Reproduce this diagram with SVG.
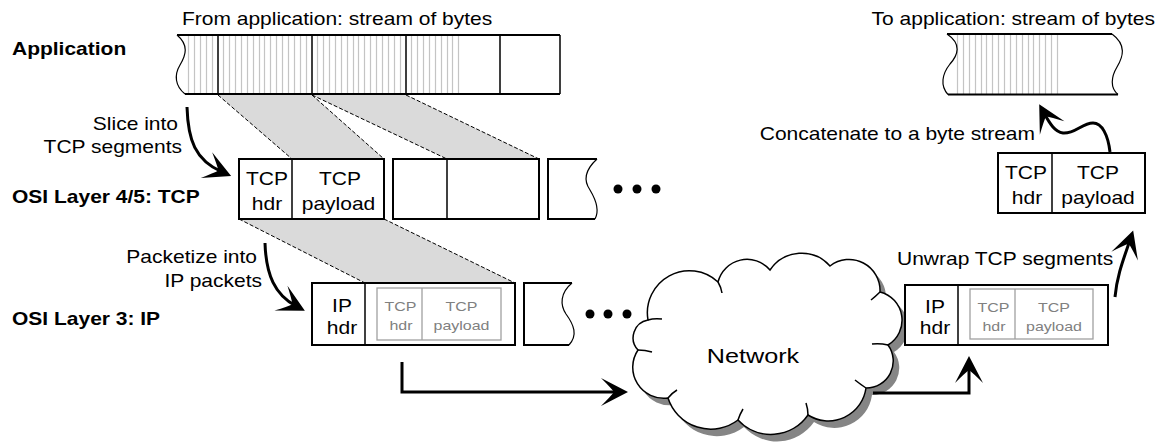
<svg xmlns="http://www.w3.org/2000/svg" width="1159" height="442" viewBox="0 0 1159 442">
<style>
.box{fill:#fff;stroke:#000;stroke-width:2}
.ln{fill:none;stroke:#000;stroke-width:2}
.div{fill:none;stroke:#000;stroke-width:1.5}
.wave{fill:none;stroke:#000;stroke-width:1.2}
.ibox{fill:none;stroke:#a0a0a0;stroke-width:1.3}
.hatch{fill:none;stroke:#c4c4c4;stroke-width:1.2}
.map{fill:#dadada;stroke:none}
.dash{fill:none;stroke:#000;stroke-width:1;stroke-dasharray:4 2}
.t{font-family:"Liberation Sans",Arial,Helvetica,sans-serif;font-size:17.5px;fill:#000}
.b{font-weight:bold}
.g{font-size:13.3px;fill:#808080}
.n{font-size:21px}
.c{text-anchor:middle}
.e{text-anchor:end}
.arrow{fill:none;stroke:#000;stroke-width:3;marker-end:url(#ah)}
.dot{fill:#000}
</style>
<defs>
<marker id="ah" markerUnits="userSpaceOnUse" viewBox="-30 -16 32 32" refX="-10" refY="0" markerWidth="32" markerHeight="32" orient="auto">
<path d="M0,0 L-27,-14 Q-17,-4 -14,0 Q-17,4 -27,14 Z" fill="#000"/>
</marker>
<path id="cloud" d="M648,320 A42,42 0 0 1 718,282 A30,30 0 0 1 770,270 A38,38 0 0 1 830,266 A31,31 0 0 1 880,292 A29,29 0 0 1 888,345 A27,27 0 0 1 866,388 A38,38 0 0 1 808,415 A45,45 0 0 1 738,420 A45,45 0 0 1 668,398 A31,31 0 0 1 638,350 A18,18 0 0 1 648,320 Z"/>
</defs>
<rect width="1159" height="442" fill="#fff"/>

<g id="mapping">
<polygon class="map" points="218,95 312,95 384,159 292,159"/>
<polygon class="map" points="312,95 406,95 539,159 447,159"/>
<polygon class="map" points="239,219 384,219 515,283 365,283"/>
<path class="dash" d="M218,95 L292,159 M312,95 L384,159 M312,95 L447,159 M406,95 L539,159 M239,219 L365,283 M384,219 L515,283"/>
</g>

<g id="app-stream">
<path class="hatch" d="M188.5,35V94M194.5,35V94M200.5,35V94M206.5,35V94M212.5,35V94M223.5,35V94M229.5,35V94M235.5,35V94M241.5,35V94M247.5,35V94M253.5,35V94M259.5,35V94M264.5,35V94M270.5,35V94M276.5,35V94M282.5,35V94M288.5,35V94M294.5,35V94M300.5,35V94M306.5,35V94M317.5,35V94M323.5,35V94M329.5,35V94M335.5,35V94M341.5,35V94M347.5,35V94M353.5,35V94M358.5,35V94M364.5,35V94M370.5,35V94M376.5,35V94M382.5,35V94M388.5,35V94M394.5,35V94M400.5,35V94M411.5,35V94M417.5,35V94M423.5,35V94M429.5,35V94M435.5,35V94M441.5,35V94M447.5,35V94M452.5,35V94M458.5,35V94"/>
<path class="wave" d="M177,35 C189,45 186,55 180,65 C174,75 175,86 185,94"/>
<path class="div" d="M218,35V94M312,35V94M406,35V94M500,35V94M560,35V94"/>
<path class="ln" d="M177,35H560M185,94H560"/>
</g>

<g id="tcp-seg-1">
<rect class="box" x="239" y="159" width="145" height="60"/>
<path class="div" d="M292,159V219"/>
<text class="t c" transform="translate(267,185) scale(1.2,1)">TCP</text>
<text class="t c" transform="translate(267,210) scale(1.2,1)">hdr</text>
<text class="t c" transform="translate(340,185) scale(1.2,1)">TCP</text>
<text class="t c" transform="translate(338.5,210) scale(1.2,1)">payload</text>
</g>
<g id="tcp-seg-2">
<rect class="box" x="393" y="159" width="146" height="60"/>
<path class="div" d="M447,159V219"/>
</g>
<g id="tcp-seg-3">
<path class="ln" d="M597,159H548V219H595"/>
<path class="wave" d="M597,159 C585,170 583,180 590,190 C596,200 600,210 595,219"/>
</g>
<g id="tcp-more">
<circle class="dot" cx="618" cy="189" r="4.5"/>
<circle class="dot" cx="637" cy="189" r="4.5"/>
<circle class="dot" cx="656" cy="189" r="4.5"/>
</g>

<g id="ip-pkt-1">
<rect class="box" x="312" y="283" width="203" height="62"/>
<path class="div" d="M365,283V345"/>
<rect class="ibox" x="377" y="288" width="124" height="52"/>
<path class="ibox" d="M422,288V340"/>
<text class="t c" transform="translate(342,312) scale(1.2,1)">IP</text>
<text class="t c" transform="translate(342,334) scale(1.2,1)">hdr</text>
<text class="t g c" transform="translate(400.5,311) scale(1.2,1)">TCP</text>
<text class="t g c" transform="translate(401,330) scale(1.2,1)">hdr</text>
<text class="t g c" transform="translate(461.5,311) scale(1.2,1)">TCP</text>
<text class="t g c" transform="translate(461.5,330) scale(1.2,1)">payload</text>
</g>
<g id="ip-pkt-2">
<path class="ln" d="M572,283H524V345H569"/>
<path class="wave" d="M572,283 C560,293 560,305 566,314 C574,325 578,335 569,345"/>
</g>
<g id="ip-more">
<circle class="dot" cx="590" cy="314" r="4.5"/>
<circle class="dot" cx="608" cy="314" r="4.5"/>
<circle class="dot" cx="627" cy="314" r="4.5"/>
</g>

<g id="network">
<use href="#cloud" transform="translate(6,7)" fill="#858585"/>
<use href="#cloud" fill="#fff" stroke="#000" stroke-width="1.5"/>
<path fill="none" stroke="#000" stroke-width="1.5" d="M648,320 Q654,318 662,319 M718,282 Q721,287 722,293 M880,292 Q876,296 871,300 M888,345 Q880,343 872,344 M866,388 Q860,384 855,380 M808,415 Q808,409 806,403 M738,420 Q740,414 743,409 M668,398 Q672,393 677,390 M638,350 Q645,350 652,352"/>
<text class="t n c" transform="translate(753,363) scale(1.2,1)">Network</text>
</g>

<g id="rx-ip-pkt">
<rect class="box" x="905" y="285" width="203" height="60"/>
<path class="div" d="M958,285V345"/>
<rect class="ibox" x="970" y="289" width="123" height="50"/>
<path class="ibox" d="M1015,289V339"/>
<text class="t c" transform="translate(935,313) scale(1.2,1)">IP</text>
<text class="t c" transform="translate(935,334) scale(1.2,1)">hdr</text>
<text class="t g c" transform="translate(993.5,312) scale(1.2,1)">TCP</text>
<text class="t g c" transform="translate(994,331) scale(1.2,1)">hdr</text>
<text class="t g c" transform="translate(1054,312) scale(1.2,1)">TCP</text>
<text class="t g c" transform="translate(1054,331) scale(1.2,1)">payload</text>
</g>

<g id="rx-tcp-seg">
<rect class="box" x="998" y="153" width="147" height="60"/>
<path class="div" d="M1052,153V213"/>
<text class="t c" transform="translate(1026,179) scale(1.2,1)">TCP</text>
<text class="t c" transform="translate(1027,204) scale(1.2,1)">hdr</text>
<text class="t c" transform="translate(1098,179) scale(1.2,1)">TCP</text>
<text class="t c" transform="translate(1098,204) scale(1.2,1)">payload</text>
</g>

<g id="rx-stream">
<path class="hatch" d="M957.5,34V94M963.5,34V94M969.5,34V94M975.5,34V94M981.5,34V94M986.5,34V94M992.5,34V94M998.5,34V94M1004.5,34V94M1010.5,34V94M1016.5,34V94M1022.5,34V94M1028.5,34V94M1033.5,34V94M1039.5,34V94M1045.5,34V94M1051.5,34V94M1057.5,34V94"/>
<path class="wave" d="M947,34 C962,44 958,55 950,64 C942,74 940,86 948,94.5"/>
<path class="wave" d="M1112,34 C1127,45 1123,57 1117,67 C1111,77 1110,88 1118,94.5"/>
<path class="ln" d="M947,34H1112M948,94.5H1118"/>
</g>

<g id="labels">
<text class="t b" transform="translate(12,55) scale(1.2,1)">Application</text>
<text class="t b" transform="translate(12,203) scale(1.2,1)">OSI Layer 4/5: TCP</text>
<text class="t b" transform="translate(12,325) scale(1.2,1)">OSI Layer 3: IP</text>
<text class="t" transform="translate(182,25) scale(1.2,1)">From application: stream of bytes</text>
<text class="t e" transform="translate(1155,25) scale(1.2,1)">To application: stream of bytes</text>
<text class="t e" transform="translate(178,130) scale(1.2,1)">Slice into</text>
<text class="t e" transform="translate(182,153) scale(1.2,1)">TCP segments</text>
<text class="t e" transform="translate(257,263) scale(1.2,1)">Packetize into</text>
<text class="t e" transform="translate(262,287) scale(1.2,1)">IP packets</text>
<text class="t e" transform="translate(1035,140) scale(1.2,1)">Concatenate to a byte stream</text>
<text class="t" transform="translate(897,265) scale(1.2,1)">Unwrap TCP segments</text>
</g>

<g id="connectors">
<path class="arrow" d="M187,107 C188,140 195,160 222,172"/>
<path class="arrow" d="M265,243 C266,275 275,295 296,306"/>
<path class="arrow" d="M402,362 V392 H618"/>
<path class="arrow" d="M873,393 H969 V366"/>
<path class="arrow" d="M1115,297 C1117,275 1124,258 1130,240"/>
<path class="arrow" d="M1110,152 C1108,135 1102,123 1093,123 C1082,123 1075,134 1063,133 C1055,132 1050,124 1044,113"/>
</g>
</svg>
